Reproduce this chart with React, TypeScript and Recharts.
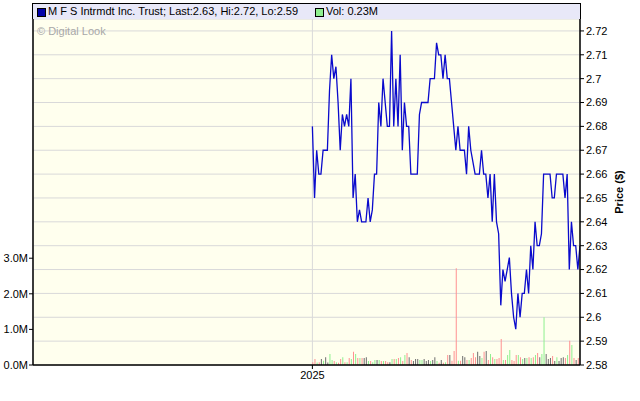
import React from "react";
import {
  ComposedChart,
  Bar,
  Line,
  Cell,
  XAxis,
  YAxis,
  CartesianGrid,
} from "recharts";

// daily closes, first trading day of 2025 onwards
const prices = [
  2.68, 2.65, 2.67, 2.66, 2.66, 2.67, 2.67, 2.67, 2.695, 2.71,
  2.7, 2.705, 2.69, 2.67, 2.685, 2.68, 2.685, 2.68, 2.7, 2.65,
  2.66, 2.64, 2.645, 2.64, 2.64, 2.64, 2.65, 2.64, 2.645, 2.66,
  2.66, 2.69, 2.68, 2.7, 2.69, 2.68, 2.68, 2.72, 2.68, 2.7,
  2.68, 2.71, 2.67, 2.69, 2.68, 2.68, 2.66, 2.66, 2.66, 2.66,
  2.685, 2.69, 2.69, 2.69, 2.69, 2.7, 2.7, 2.7, 2.715, 2.71,
  2.71, 2.7, 2.71, 2.7, 2.7, 2.69, 2.68, 2.67, 2.68, 2.67,
  2.67, 2.67, 2.66, 2.68, 2.67, 2.665, 2.66, 2.66, 2.66, 2.67,
  2.66, 2.66, 2.65, 2.66, 2.64, 2.66, 2.64, 2.635, 2.605, 2.62,
  2.615, 2.62, 2.625, 2.61, 2.6, 2.595, 2.61, 2.6, 2.61, 2.61,
  2.62, 2.61, 2.63, 2.62, 2.64, 2.63, 2.63, 2.635, 2.66, 2.66,
  2.66, 2.66, 2.65, 2.65, 2.66, 2.66, 2.66, 2.66, 2.65, 2.66,
  2.62, 2.64, 2.63, 2.63, 2.62, 2.63,
];

// daily volume, millions
const volumes = [
  0.08, 0.17, 0.07, 0.08, 0.17, 0.12, 0.22, 0.07, 0.31, 0.14,
  0.11, 0.08, 0.06, 0.17, 0.22, 0.08, 0.08, 0.2, 0.17, 0.37,
  0.31, 0.2, 0.2, 0.2, 0.2, 0.22, 0.11, 0.11, 0.08, 0.14,
  0.14, 0.14, 0.11, 0.11, 0.11, 0.08, 0.08, 0.17, 0.17, 0.17,
  0.2, 0.22, 0.11, 0.28, 0.34, 0.22, 0.14, 0.11, 0.17, 0.17,
  0.14, 0.14, 0.17, 0.11, 0.14, 0.11, 0.14, 0.22, 0.11, 0.06,
  0.14, 0.06, 0.08, 0.28, 0.28, 0.12, 0.39, 2.72, 0.12, 0.12,
  0.25, 0.22, 0.14, 0.14, 0.2, 0.34, 0.22, 0.37, 0.25, 0.2,
  0.37, 0.39, 0.14, 0.31, 0.22, 0.17, 0.17, 0.2, 0.73, 0.14,
  0.14, 0.28, 0.42, 0.14, 0.11, 0.28, 0.28, 0.22, 0.17, 0.2,
  0.2, 0.22, 0.2, 0.22, 0.28, 0.34, 0.22, 0.31, 1.34, 0.31,
  0.17, 0.2, 0.25, 0.11, 0.22, 0.11, 0.2, 0.22, 0.2, 0.28,
  0.68, 0.56, 0.2, 0.14, 0.2, 0.23,
];

const prevClose = 2.69;
const priceTicks = [2.58, 2.59, 2.6, 2.61, 2.62, 2.63, 2.64, 2.65, 2.66, 2.67, 2.68, 2.69, 2.7, 2.71, 2.72];
const volTicks = [0, 1, 2, 3];
const yearTicks = [{ i: 0, label: "2025" }];

const UP = "#8ff08f";
const DOWN = "#ff9191";
const FLAT = "#6e6e6e";

const data = prices.map((p, i) => {
  const prev = i === 0 ? prevClose : prices[i - 1];
  return {
    i,
    price: p,
    vol: volumes[i],
    color: p > prev ? UP : p < prev ? DOWN : FLAT,
  };
});

const font = "'Liberation Sans', Arial, sans-serif";
const tickStyle = { fontSize: 11, fill: "#000", fontFamily: font };

export default function App() {
  return (
    <div style={{ position: "absolute", left: 0, top: 0, width: 640, height: 401, background: "#fff", fontFamily: font }}>
      <ComposedChart width={640} height={401} data={data} margin={{ top: 19, right: 0, bottom: 0, left: 0 }}>
        <CartesianGrid yAxisId="price" stroke="#d9d9d9" fill="#ffffee" />
        <XAxis
          dataKey="i"
          type="number"
          domain={[-130.5, 125]}
          ticks={yearTicks.map((t) => t.i)}
          tickFormatter={(v) => yearTicks.find((t) => t.i === v)?.label ?? ""}
          height={36}
          tick={tickStyle}
          tickSize={4}
          tickMargin={2}
          axisLine={{ stroke: "#000", strokeWidth: 1.5 }}
          tickLine={{ stroke: "#000" }}
          allowDataOverflow
        />
        <YAxis
          yAxisId="vol"
          orientation="left"
          width={33}
          domain={[0, 9.72]}
          ticks={volTicks}
          tickFormatter={(v) => `${v.toFixed(1)}M`}
          tick={tickStyle}
          tickSize={4}
          tickMargin={1}
          axisLine={{ stroke: "#000", strokeWidth: 1.5 }}
          tickLine={{ stroke: "#000" }}
          allowDataOverflow
        />
        <YAxis
          yAxisId="price"
          orientation="right"
          width={60}
          domain={[2.58, 2.725]}
          ticks={priceTicks}
          tickFormatter={(v) => String(parseFloat(v.toFixed(2)))}
          tick={{ ...tickStyle, textAnchor: "start" }}
          tickSize={4}
          tickMargin={2}
          axisLine={{ stroke: "#000", strokeWidth: 1.5 }}
          tickLine={{ stroke: "#000" }}
          allowDataOverflow
          label={{
            value: "Price ($)",
            angle: -90,
            position: "insideRight",
            offset: 21,
            style: { fontSize: 11, fontWeight: "bold", fill: "#000", fontFamily: font, textAnchor: "middle" },
          }}
        />
        <Bar yAxisId="vol" dataKey="vol" barSize={1} isAnimationActive={false}>
          {data.map((d) => (
            <Cell key={d.i} fill={d.color} />
          ))}
        </Bar>
        <Line
          yAxisId="price"
          dataKey="price"
          type="linear"
          stroke="#0a0acc"
          strokeWidth={1.3}
          dot={false}
          isAnimationActive={false}
        />
      </ComposedChart>
      <div
        style={{
          position: "absolute",
          left: 32,
          top: 3,
          width: 547,
          height: 15,
          background: "#e8e8f8",
          borderTop: "1px solid #000",
          borderLeft: "1px solid #000",
          borderRight: "1px solid #000",
          fontSize: 11,
          color: "#000",
        }}
      >
        <span style={{ position: "absolute", left: 4, top: 4, width: 7, height: 7, background: "#0000aa", border: "1px solid #000" }} />
        <span style={{ position: "absolute", left: 15, top: 1, whiteSpace: "nowrap" }}>
          M F S Intrmdt Inc. Trust; Last:2.63, Hi:2.72, Lo:2.59
        </span>
        <span style={{ position: "absolute", left: 282, top: 4, width: 7, height: 7, background: UP, border: "1px solid #000" }} />
        <span style={{ position: "absolute", left: 293, top: 1, whiteSpace: "nowrap" }}>Vol: 0.23M</span>
      </div>
      <div style={{ position: "absolute", left: 37, top: 25, fontSize: 11, color: "#a8a8a8", whiteSpace: "nowrap" }}>
        © Digital Look
      </div>
    </div>
  );
}
